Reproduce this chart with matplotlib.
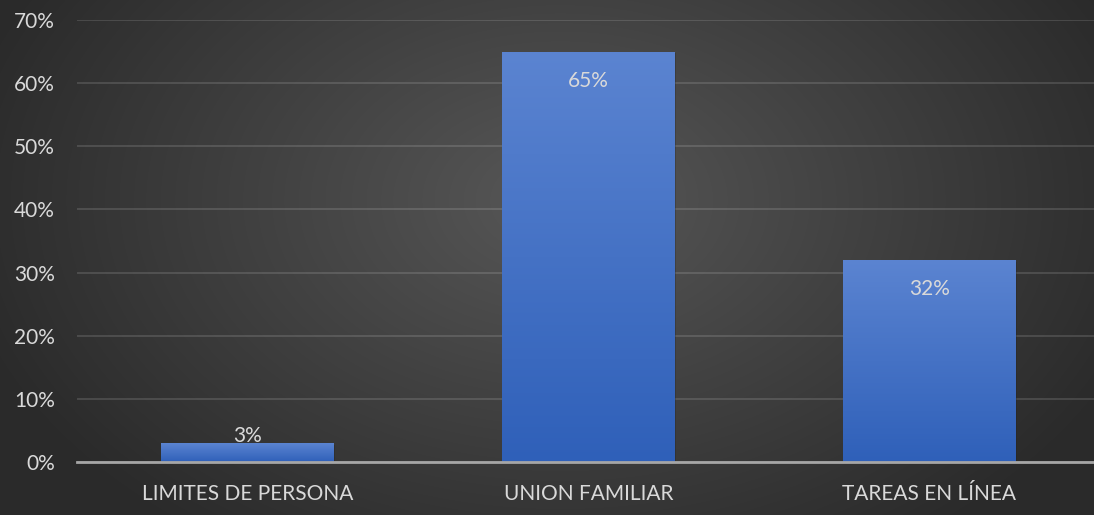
import matplotlib.pyplot as plt
import matplotlib.colors as mcolors
import numpy as np

categories = ["LIMITES DE PERSONA", "UNION FAMILIAR", "TAREAS EN LÍNEA"]
values = [0.03, 0.65, 0.32]
labels = ["3%", "65%", "32%"]
yticks = [0, 0.1, 0.2, 0.3, 0.4, 0.5, 0.6, 0.7]

plt.rcParams["font.family"] = ["Lato", "DejaVu Sans"]

fig = plt.figure(figsize=(10.94, 5.15), dpi=100)

# radial gradient background
bg = fig.add_axes([0, 0, 1, 1])
bg.set_axis_off()
yy, xx = np.mgrid[0:515, 0:1094]
r = np.sqrt(((xx - 560) / 620.0) ** 2 + ((yy - 200) / 420.0) ** 2)
r = np.clip(r, 0, 1)
bg_cmap = mcolors.LinearSegmentedColormap.from_list("bg", ["#575757", "#2a2a2a"])
bg.imshow(r, cmap=bg_cmap, aspect="auto", extent=[0, 1, 0, 1], origin="upper")
bg.set_xlim(0, 1)
bg.set_ylim(0, 1)

ax = fig.add_axes([77 / 1094, 53 / 515, 1023 / 1094, 442 / 515])
ax.patch.set_alpha(0)
x = np.arange(len(categories))
ax.set_xlim(-0.5, 2.5)
ax.set_ylim(0, 0.7)

bar_cmap = mcolors.LinearSegmentedColormap.from_list("bar", ["#2f60b9", "#5b84d1"])
grad = np.linspace(0, 1, 256).reshape(-1, 1)
bars = ax.bar(x, values, width=0.505, color="none", zorder=3)
for b in bars:
    x0, y0 = b.get_x(), b.get_y()
    w, h = b.get_width(), b.get_height()
    # soft shadow
    ax.bar(x0 + w / 2 + 0.004, h, width=w, bottom=-0.003, color="#1e1e1e",
           alpha=0.25, zorder=2)
    im = ax.imshow(grad, cmap=bar_cmap, origin="lower", aspect="auto",
                   extent=[x0, x0 + w, y0, y0 + h], zorder=3)
    im.set_clip_path(b)

for xi, v, lab in zip(x, values, labels):
    if v > 0.1:
        ax.annotate(lab, (xi, v), xytext=(0, -29), textcoords="offset pixels",
                    ha="center", va="center", color="#d9d9d9", fontsize=15, zorder=5)
    else:
        ax.annotate(lab, (xi, v), xytext=(0, 7), textcoords="offset pixels",
                    ha="center", va="center", color="#d9d9d9", fontsize=15, zorder=5)

ax.set_yticks(yticks)
ax.set_yticklabels([f"{int(round(t * 100))}%" for t in yticks])
ax.set_xticks(x)
ax.set_xticklabels(categories)
ax.tick_params(axis="both", length=0, colors="#d9d9d9", labelsize=15)
ax.tick_params(axis="y", pad=16)
ax.tick_params(axis="x", pad=16)

ax.grid(axis="y", color="#ffffff", alpha=0.13, linewidth=1.5, zorder=0)
ax.set_axisbelow(True)
for s in ["top", "right", "left"]:
    ax.spines[s].set_visible(False)
ax.spines["bottom"].set_color("#a6a6a6")
ax.spines["bottom"].set_linewidth(2)
ax.spines["bottom"].set_zorder(4)

fig.savefig("out.png", dpi=100)
plt.close()
